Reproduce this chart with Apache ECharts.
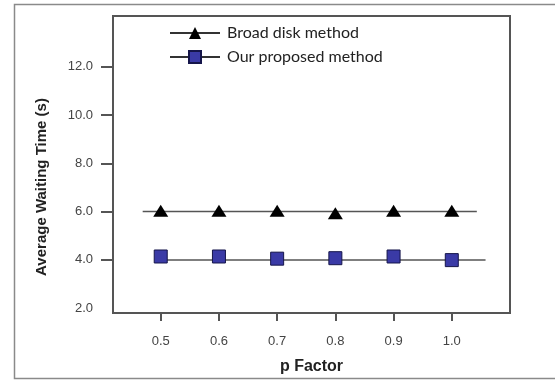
<!DOCTYPE html>
<html>
<head>
<meta charset="utf-8">
<script src="https://cdn.jsdelivr.net/npm/echarts@6/dist/echarts.min.js"></script>
<style>
  html, body { margin: 0; padding: 0; background: #fff; }
  #chart { width: 555px; height: 380px; }
</style>
</head>
<body>
<div id="chart"></div>
<script>
// p factor values and measured waiting times
const pFactor = [0.5, 0.6, 0.7, 0.8, 0.9, 1.0];
const broadDisk = [6.03, 6.03, 6.03, 5.93, 6.03, 6.03];
const proposed = [4.14, 4.14, 4.05, 4.07, 4.14, 3.99];
// horizontal reference lines drawn through each series
const broadLineX = [0.469, 1.043];
const broadLineY = [6.0, 6.0];
const proposedLineX = [0.5, 1.058];
const proposedLineY = [4.0, 4.0];
const yTicks = [2, 4, 6, 8, 10, 12];

const chart = echarts.init(document.getElementById('chart'));

const pairs = (xs, ys) => xs.map((x, i) => [x, ys[i]]);

chart.setOption({
    animation: false,
    backgroundColor: '#fff',
    grid: {
        left: 113, right: 45, top: 16, bottom: 67,
        show: true, borderColor: '#555', borderWidth: 2
    },
    graphic: [
        {
            type: 'rect',
            shape: { x: 14.5, y: 4.5, width: 560, height: 374 },
            style: { fill: 'none', stroke: '#8a8a8a', lineWidth: 1.5 },
            z: 0
        },
        {
            // y axis title, sits a bit below the plot centre in the original
            type: 'text',
            x: 42,
            y: 187,
            rotation: Math.PI / 2,
            style: {
                text: 'Average Waiting Time (s)',
                fontFamily: 'Liberation Sans',
                fontWeight: 'bold',
                fontSize: 15,
                fill: '#222',
                align: 'center',
                verticalAlign: 'middle'
            }
        }
    ],
    legend: {
        orient: 'vertical',
        left: 164,
        top: 20,
        itemWidth: 50,
        itemHeight: 15,
        itemGap: 8,
        textStyle: { fontFamily: 'Lato', fontSize: 16, color: '#222', padding: [0, 0, 0, 2] },
        data: [
            { name: 'Broad disk method', lineStyle: { opacity: 1, color: '#333', width: 2 } },
            { name: 'Our proposed method', lineStyle: { opacity: 1, color: '#333', width: 2 } }
        ]
    },
    xAxis: {
        type: 'value',
        min: 0.418,
        max: 1.1,
        name: 'p Factor',
        nameLocation: 'middle',
        nameGap: 46,
        nameTextStyle: { fontFamily: 'Liberation Sans', fontWeight: 'bold', fontSize: 16, color: '#222' },
        splitLine: { show: false },
        axisLine: { lineStyle: { color: '#555', width: 2 } },
        axisTick: { length: 8, lineStyle: { color: '#555', width: 2 }, customValues: pFactor },
        axisLabel: {
            customValues: pFactor,
            formatter: (v) => v.toFixed(1),
            margin: 22,
            fontFamily: 'Liberation Sans',
            fontSize: 13,
            color: '#444'
        }
    },
    yAxis: {
        type: 'value',
        min: 1.8,
        max: 14.1,
        splitLine: { show: false },
        axisLine: { show: true, lineStyle: { color: '#555', width: 2 } },
        axisTick: { show: true, length: 12, lineStyle: { color: '#555', width: 2 }, customValues: yTicks.slice(1) },
        axisLabel: {
            customValues: yTicks,
            formatter: (v) => v.toFixed(1),
            margin: 20,
            fontFamily: 'Liberation Sans',
            fontSize: 13,
            color: '#444'
        }
    },
    series: [
        {
            name: 'Broad disk method fit',
            type: 'line',
            data: pairs(broadLineX, broadLineY),
            showSymbol: false,
            lineStyle: { color: '#555', width: 1.5 },
            z: 1
        },
        {
            name: 'Our proposed method fit',
            type: 'line',
            data: pairs(proposedLineX, proposedLineY),
            showSymbol: false,
            lineStyle: { color: '#555', width: 1.5 },
            z: 1
        },
        {
            name: 'Broad disk method',
            type: 'line',
            data: pairs(pFactor, broadDisk),
            symbol: 'triangle',
            symbolSize: [15, 12],
            itemStyle: { color: '#000' },
            lineStyle: { opacity: 0 },
            z: 3
        },
        {
            name: 'Our proposed method',
            type: 'line',
            data: pairs(pFactor, proposed),
            symbol: 'rect',
            symbolSize: 13,
            itemStyle: { color: '#3a3aa6', borderColor: '#15154a', borderWidth: 1 },
            lineStyle: { opacity: 0 },
            z: 3
        }
    ]
});
</script>
</body>
</html>
